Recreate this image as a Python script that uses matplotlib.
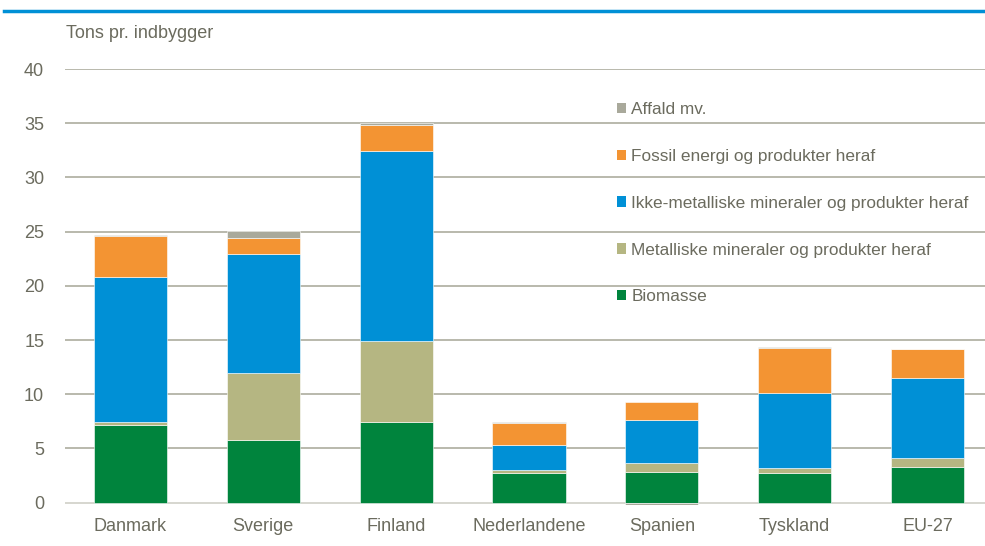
import matplotlib
matplotlib.use("Agg")
import matplotlib.pyplot as plt
from matplotlib.patches import Patch
import numpy as np

countries = ["Danmark", "Sverige", "Finland", "Nederlandene", "Spanien", "Tyskland", "EU-27"]
biomasse = [7.2, 5.8, 7.4, 2.7, 2.85, 2.7, 3.25]
metalliske = [0.25, 6.15, 7.5, 0.33, 0.83, 0.5, 0.83]
ikke_metalliske = [13.4, 11.0, 17.55, 2.25, 3.96, 6.9, 7.45]
fossil = [3.75, 1.5, 2.4, 2.08, 1.66, 4.17, 2.6]
affald = [0.05, 0.6, 0.15, 0.05, -0.18, 0.12, 0.05]

series_names = ["Biomasse", "Metalliske mineraler og produkter heraf",
                "Ikke-metalliske mineraler og produkter heraf",
                "Fossil energi og produkter heraf", "Affald mv."]
series_vals = [biomasse, metalliske, ikke_metalliske, fossil, affald]
colors = ["#00843d", "#b5b682", "#0090d6", "#f39433", "#a9a99b"]

y_ticks = [0, 5, 10, 15, 20, 25, 30, 35, 40]
y_label = "Tons pr. indbygger"

font = ["Liberation Sans Narrow", "Liberation Sans", "DejaVu Sans"]
plt.rcParams["font.family"] = font
txt_color = "#6b6b5e"

fig = plt.figure(figsize=(9.85, 5.46), dpi=100)
W, H = 985, 546
ax_left, ax_right = 65, 985
ax_top, ax_bottom = 69, 505.4
ax = fig.add_axes([ax_left / W, (H - ax_bottom) / H, (ax_right - ax_left) / W, (ax_bottom - ax_top) / H])

x = np.arange(len(countries))
pos_bottom = np.zeros(len(countries))
neg_bottom = np.zeros(len(countries))
for name, vals, c in zip(series_names, series_vals, colors):
    v = np.array(vals, dtype=float)
    b = np.where(v >= 0, pos_bottom, neg_bottom)
    ax.bar(x, v, bottom=b, width=0.55, color=c, edgecolor="#ffffff", linewidth=0.4, zorder=3, label=name)
    pos_bottom = pos_bottom + np.where(v >= 0, v, 0)
    neg_bottom = neg_bottom + np.where(v < 0, v, 0)

ax.set_xlim(-0.493, 6.433)
ax.set_ylim(-0.25, 40)
ax.set_yticks(y_ticks)
ax.set_xticks(x)
ax.set_xticklabels(countries)
for s in ax.spines.values():
    s.set_visible(False)
ax.tick_params(axis="both", length=0, labelsize=13, colors=txt_color)
ax.tick_params(axis="y", pad=15)
ax.tick_params(axis="x", pad=9)
for t in y_ticks:
    ax.axhline(t, color="#d3d3cb" if t == 0 else "#b3b3a6", linewidth=1.3, zorder=1)

fig.text(66 / W, (H - 33) / H, y_label, fontsize=13, color=txt_color, va="center", ha="left")

handles = [Patch(facecolor=c, edgecolor="none") for c in colors][::-1]
labels = series_names[::-1]
leg = ax.legend(handles, labels, loc="upper left", bbox_to_anchor=(0.583, 0.96),
                frameon=False, fontsize=12.4, handlelength=0.55, handleheight=0.55,
                handletextpad=0.3, labelspacing=1.85, labelcolor=txt_color)

# top rule
fig.add_artist(plt.Line2D([4 / W, 1.0], [(H - 11) / H, (H - 11) / H], color="#0090d6", linewidth=2.5))

fig.savefig("out.png", dpi=100)
